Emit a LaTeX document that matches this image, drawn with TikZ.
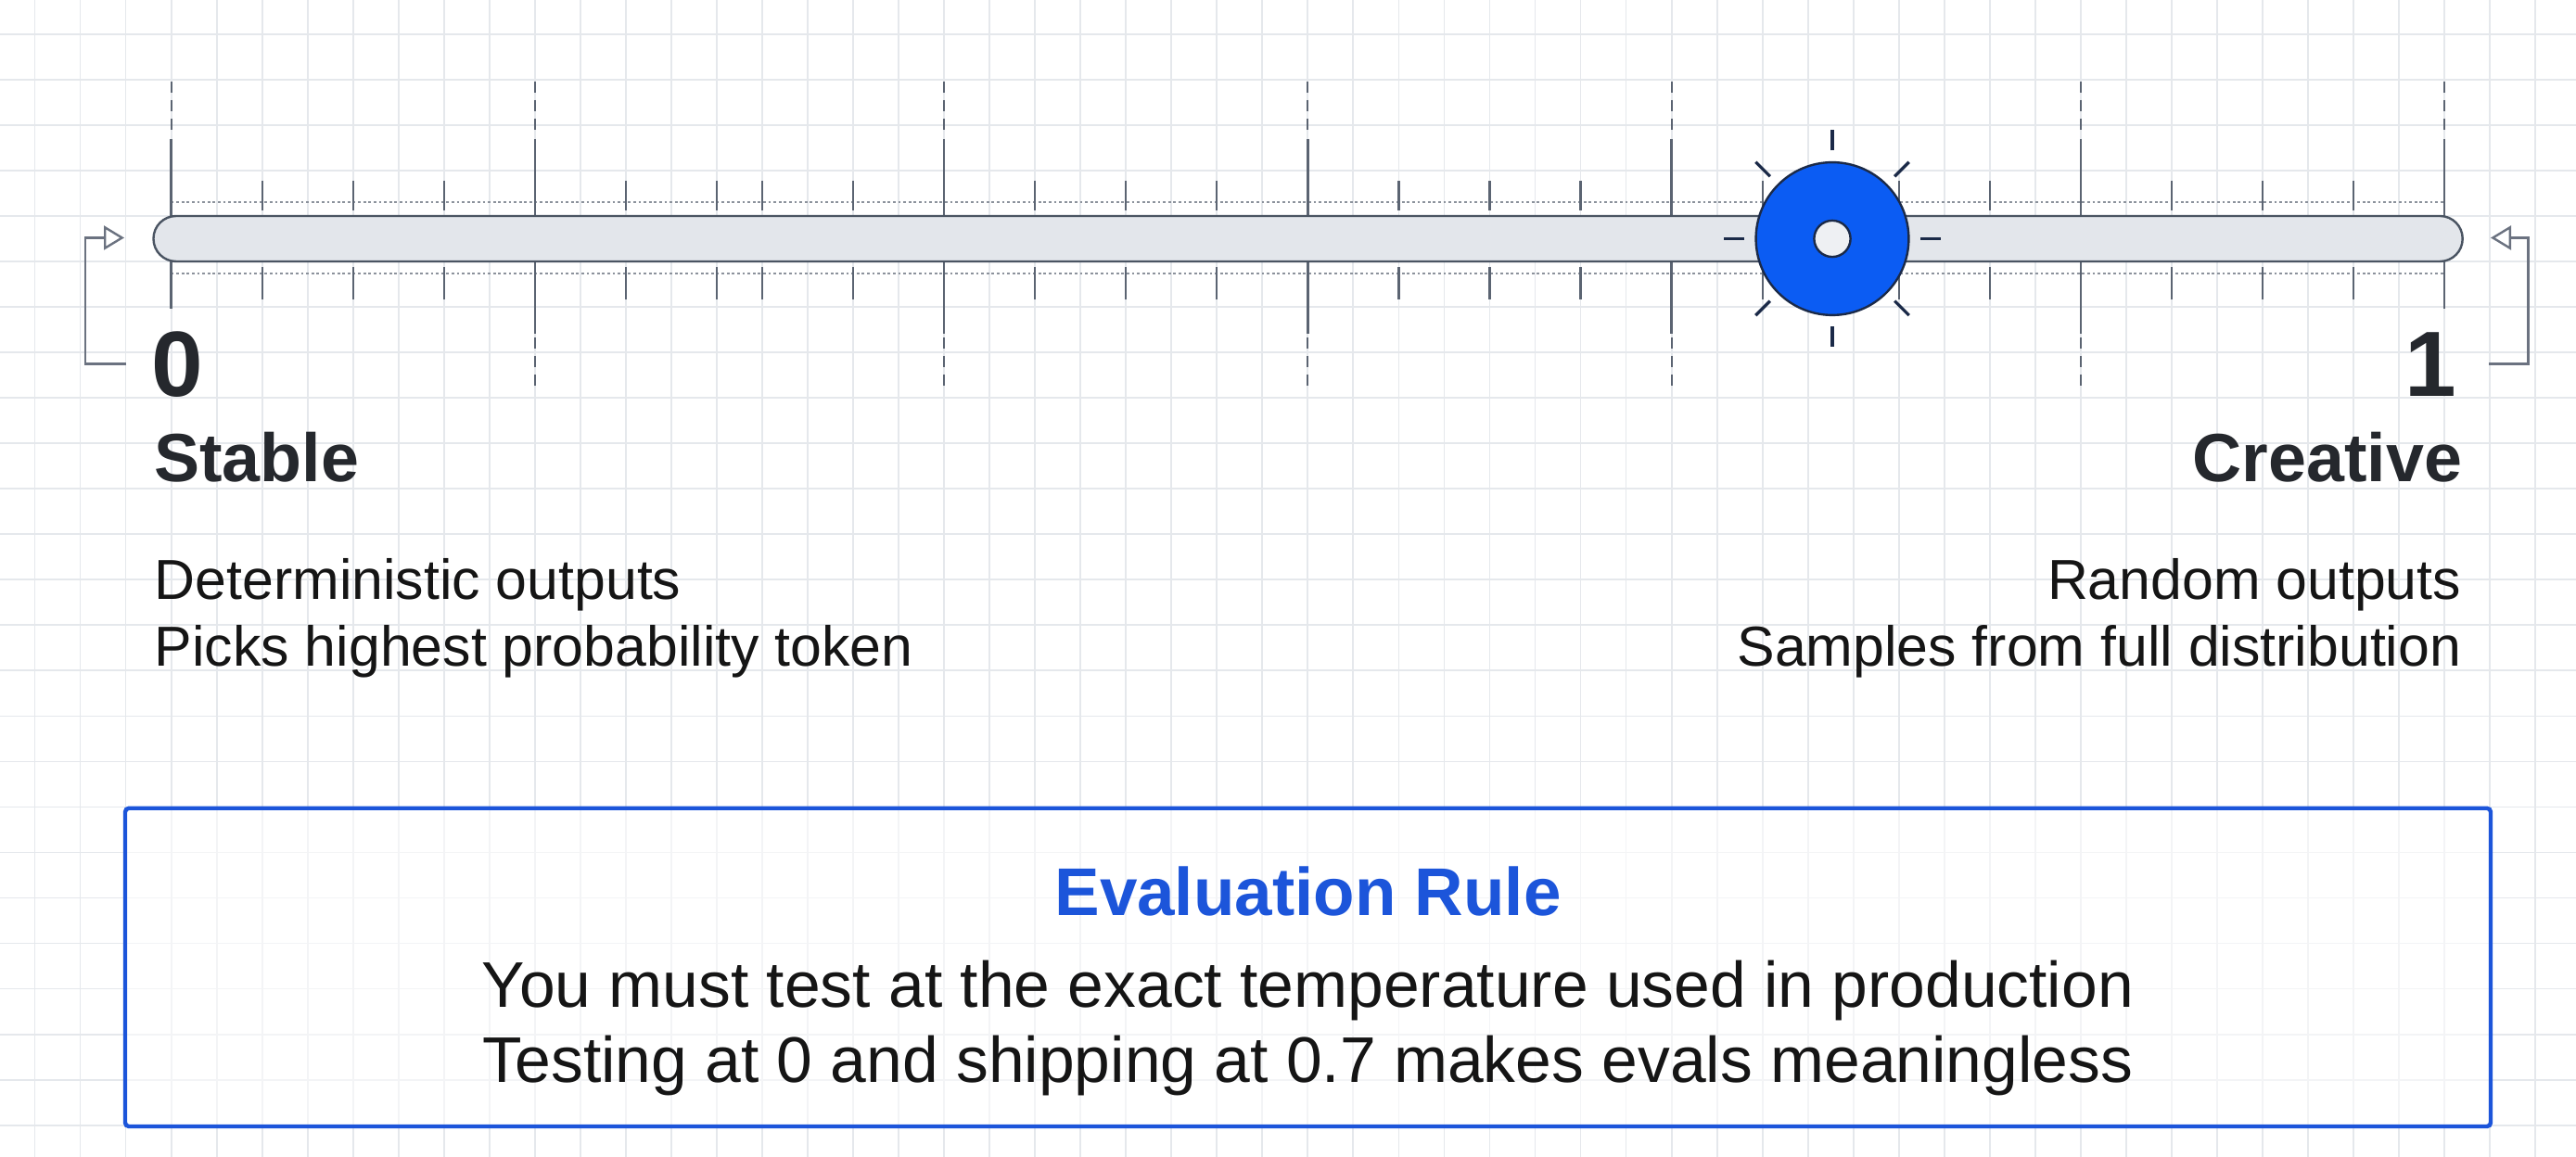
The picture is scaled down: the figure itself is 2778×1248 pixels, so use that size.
\documentclass[tikz,border=0pt]{standalone}
\usepackage{fontspec}
\setmainfont{Liberation Sans}
\usetikzlibrary{arrows.meta}
\definecolor{gridc}{HTML}{E5E8EC}
\definecolor{tickc}{HTML}{5B6472}
\definecolor{barfill}{HTML}{E3E6EB}
\definecolor{barline}{HTML}{4A5462}
\definecolor{knobblue}{HTML}{0B5CF3}
\definecolor{navy}{HTML}{1B2A48}
\definecolor{headc}{HTML}{25282D}
\definecolor{textc}{HTML}{151515}
\definecolor{rulec}{HTML}{1C55DA}
\definecolor{bracketc}{HTML}{6B7280}
\tikzset{
  gridline/.style={draw=gridc, line width=0.45pt},
  minortick/.style={draw=tickc, line width=0.55pt},
  majortick/.style={draw=tickc, line width=0.6pt},
  extdash/.style={draw=tickc, line width=0.5pt, dash pattern=on 3pt off 2pt},
  dotline/.style={draw=tickc!70, line width=0.4pt, dash pattern=on 0.7pt off 0.7pt},
  bracketline/.style={draw=bracketc, line width=0.6pt, -{Triangle[open, length=5.5pt, width=6.5pt]}},
  raymark/.style={draw=navy, line width=0.8pt},
  numsty/.style={inner sep=0pt, text=headc, font=\fontsize{25}{30}\selectfont\bfseries},
  headsty/.style={inner sep=0pt, text=headc, font=\fontsize{18.4}{22}\selectfont\bfseries},
  descsty/.style={inner sep=0pt, text=textc, font=\fontsize{15.2}{18}\selectfont},
  bodysty/.style={inner sep=0pt, text=textc, font=\fontsize{17.4}{21}\selectfont},
  rulebox/.style={draw=rulec, line width=1.1pt, fill=white, fill opacity=0.55, rounded corners=1pt, inner sep=0pt},
}
\begin{document}
\begin{tikzpicture}[x=0.25pt,y=-0.25pt]
\fill[white] (0,0) rectangle (2778,1248);
\useasboundingbox (0,0) rectangle (2778,1248);
% grid
\foreach \k in {-3,...,52} \draw[gridline] ({184.6+49.03*\k},0) -- ({184.6+49.03*\k},1248);
\foreach \k in {-1,...,23} \draw[gridline] (0,{86+49.03*\k}) -- (2778,{86+49.03*\k});
% dotted guide lines
\draw[dotline] (184.6,218) -- (2636,218);
\draw[dotline] (184.6,295) -- (2636,295);
% minor ticks
\foreach \c in {2,4,6,10,12,13,15,19,21,23,27,29,31,35,38,40,44,46,48} {
  \draw[minortick] ({184.6+49.03*\c},195) -- ({184.6+49.03*\c},227);
  \draw[minortick] ({184.6+49.03*\c},288) -- ({184.6+49.03*\c},323);
}
% interior major ticks
\foreach \c in {8,17,25,33,42} {
  \draw[majortick] ({184.6+49.03*\c},150) -- ({184.6+49.03*\c},360);
  \draw[extdash] ({184.6+49.03*\c},88) -- ({184.6+49.03*\c},143);
  \draw[extdash] ({184.6+49.03*\c},364) -- ({184.6+49.03*\c},422);
}
% end major ticks
\foreach \c in {0,50} {
  \draw[majortick] ({184.6+49.03*\c},150) -- ({184.6+49.03*\c},333);
  \draw[extdash] ({184.6+49.03*\c},88) -- ({184.6+49.03*\c},143);
}
% slider bar
\draw[fill=barfill, draw=barline, line width=0.6pt, rounded corners=6.1pt] (165.5,233) rectangle (2655.7,282);
% knob
\node[circle, draw=navy, line width=0.6pt, fill=knobblue, minimum size=41.2pt, inner sep=0pt] (knob) at (1976,257.5) {};
\node[circle, draw=navy, line width=0.6pt, fill=barfill!60!white, minimum size=9.8pt, inner sep=0pt] (hole) at (knob.center) {};
\foreach \a in {0,45,...,315} \draw[raymark] (knob.center) ++(\a:95) -- ++(\a:22);
% brackets
\coordinate (lb1) at (136,392.7);
\coordinate (lb2) at (92,392.7);
\coordinate (ltip) at (134,256.5);
\draw[bracketline] (lb1) -- (lb2) |- (ltip);
\coordinate (rb1) at (2684,392.7);
\coordinate (rb2) at (2726.4,392.7);
\coordinate (rtip) at (2686,256.5);
\draw[bracketline] (rb1) -- (rb2) |- (rtip);
% labels
\node[numsty, anchor=base west] (zero) at (163,428) {0};
\node[numsty, anchor=base east] (one) at (2650,428) {1};
\node[headsty, anchor=base west] (stable) at (165.5,520) {Stable};
\node[headsty, anchor=base east] (creative) at (2656,520) {Creative};
\node[descsty, anchor=base west] (d1) at (166,647) {Deterministic outputs};
\node[descsty, anchor=base west] (d2) at (166,719) {Picks highest probability token};
\node[descsty, anchor=base east] (c1) at (2655,647) {Random outputs};
\node[descsty, anchor=base east] (c2) at (2655,719) {Samples from full distribution};
% rule box
\node[rulebox, minimum width=637.75pt, minimum height=85.8pt] (rule) at (1410.5,1043.4) {};
\node[inner sep=0pt, text=rulec, font=\fontsize{18.2}{22}\selectfont\bfseries, anchor=base] (ruletitle) at (1410.5,988) {Evaluation Rule};
\node[bodysty, anchor=base] (r1) at (1410.5,1087) {You must test at the exact temperature used in production};
\node[bodysty, anchor=base] (r2) at (1410.5,1168) {Testing at 0 and shipping at 0.7 makes evals meaningless};
\end{tikzpicture}
\end{document}
